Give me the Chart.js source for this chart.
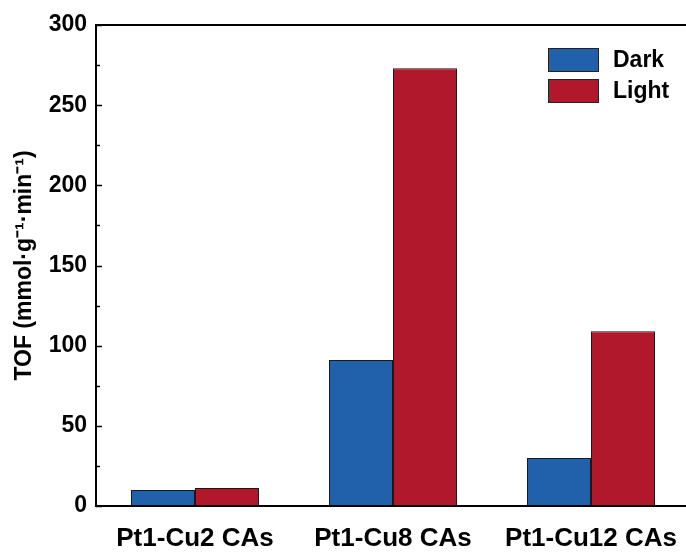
<!DOCTYPE html>
<html>
<head>
<meta charset="utf-8">
<script src="https://cdn.jsdelivr.net/npm/chart.js@4.4.0/dist/chart.umd.min.js"></script>
<style>
    html, body { margin: 0; padding: 0; background: #fff; overflow: hidden; }
    #wrap { width: 700px; height: 556px; }
</style>
</head>
<body>
<div id="wrap"><canvas id="tof-chart" width="700" height="556"></canvas></div>
<script>
// Data
const categories = ['Pt1-Cu2 CAs', 'Pt1-Cu8 CAs', 'Pt1-Cu12 CAs'];
const darkValues = [10, 91, 30];
const lightValues = [11.2, 273, 109];
const seriesNames = ['Dark', 'Light'];
const yTicks = [0, 50, 100, 150, 200, 250, 300];

const FONT = "'Liberation Sans', Arial, sans-serif";
const BLUE = '#2161ab';
const RED = '#b2182b';

// Frame around the plot plus inward tick marks
const frameTicks = {
    id: 'frameTicks',
    afterDraw(chart) {
        const { ctx, chartArea: a, scales: { y } } = chart;
        ctx.save();
        ctx.strokeStyle = '#000';
        ctx.lineWidth = 2;
        ctx.strokeRect(a.left, a.top, a.right - a.left, a.bottom - a.top);
        ctx.lineWidth = 1.5;
        for (let v = y.min; v <= y.max; v += 25) {
            const py = Math.round(y.getPixelForValue(v)) + 0.5;
            const len = v % 50 === 0 ? 6 : 4;
            ctx.beginPath();
            ctx.moveTo(a.left, py);
            ctx.lineTo(a.left + len, py);
            ctx.stroke();
        }
        ctx.restore();
    }
};

// Legend in the upper right corner of the plot
const cornerLegend = {
    id: 'cornerLegend',
    afterDraw(chart) {
        const { ctx } = chart;
        ctx.save();
        ctx.font = "bold 23px " + FONT;
        ctx.textBaseline = 'middle';
        chart.data.datasets.forEach((ds, i) => {
            const bx = 548, by = 48 + i * 31;
            ctx.fillStyle = ds.backgroundColor;
            ctx.fillRect(bx, by, 51, 24);
            ctx.strokeStyle = '#222';
            ctx.lineWidth = 1;
            ctx.strokeRect(bx + 0.5, by + 0.5, 50, 23);
            ctx.fillStyle = '#000';
            ctx.fillText(ds.label, 613, by + 13);
        });
        ctx.restore();
    }
};

const ctx = document.getElementById('tof-chart');

new Chart(ctx, {
    type: 'bar',
    data: {
        labels: categories,
        datasets: [
            {
                label: seriesNames[0],
                data: darkValues,
                backgroundColor: BLUE,
                borderColor: '#1a1a1a',
                borderWidth: 1
            },
            {
                label: seriesNames[1],
                data: lightValues,
                backgroundColor: RED,
                borderColor: '#1a1a1a',
                borderWidth: 1
            }
        ]
    },
    options: {
        responsive: false,
        animation: false,
        layout: { padding: { top: 25, right: 10, left: 0, bottom: 0 } },
        datasets: {
            bar: { categoryPercentage: 0.6465, barPercentage: 1 }
        },
        plugins: {
            legend: { display: false },
            tooltip: { enabled: false }
        },
        scales: {
            x: {
                grid: { display: false, drawTicks: false },
                border: { display: false },
                ticks: {
                    color: '#000',
                    padding: 17,
                    font: { family: FONT, size: 26, weight: 'bold' }
                },
                afterFit(scale) { scale.height = 50; }
            },
            y: {
                min: 0,
                max: 300,
                grid: { display: false, drawTicks: false },
                border: { display: false },
                afterBuildTicks(scale) {
                    scale.ticks = yTicks.map(v => ({ value: v }));
                },
                ticks: {
                    color: '#000',
                    padding: 9,
                    font: { family: FONT, size: 23, weight: 'bold' }
                },
                title: {
                    display: true,
                    text: 'TOF (mmol·g⁻¹·min⁻¹)',
                    color: '#000',
                    padding: { top: 11, bottom: 0 },
                    font: { family: FONT, size: 23, weight: 'bold' }
                },
                afterFit(scale) { scale.width = 96; }
            }
        }
    },
    plugins: [frameTicks, cornerLegend]
});
</script>
</body>
</html>
